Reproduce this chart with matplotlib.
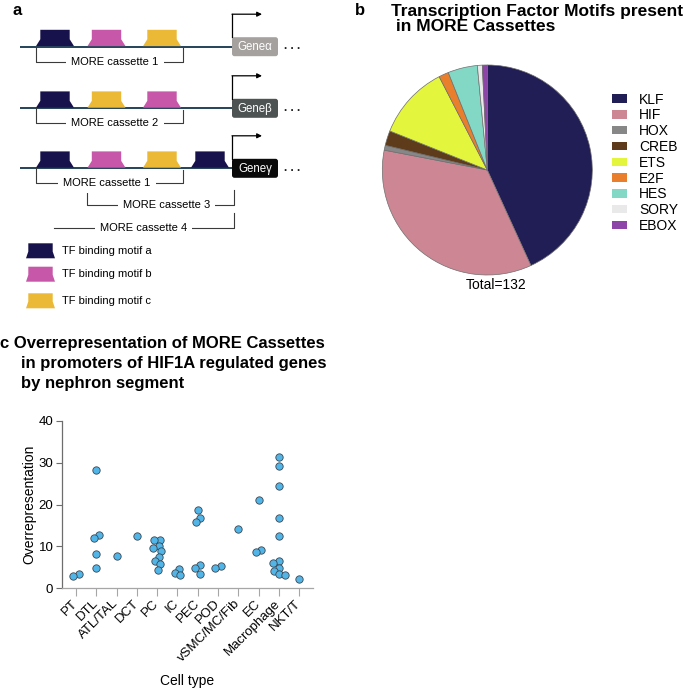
import matplotlib
matplotlib.use('Agg')
import matplotlib.pyplot as plt
import numpy as np
from matplotlib.patches import Polygon, FancyBboxPatch, Patch

plt.rcParams['font.family'] = ['Liberation Sans', 'DejaVu Sans']

# ---------------- Panel b data ----------------
motif_names = ['KLF', 'HIF', 'HOX', 'CREB', 'ETS', 'E2F', 'HES', 'SORY', 'EBOX']
motif_counts = [57, 46, 1, 3, 15, 2, 6, 1, 1]
motif_colors = ['#211d55', '#cd8794', '#878787', '#5e3b1b', '#e3f53c',
                '#e97f2c', '#82d8c4', '#e9e9e9', '#8d45a8']
pie_title = 'Transcription Factor Motifs present\n in MORE Cassettes'
total_label = 'Total=132'

# ---------------- Panel c data ----------------
cell_types = ['PT', 'DTL', 'ATL/TAL', 'DCT', 'PC', 'IC', 'PEC', 'POD',
              'vSMC/MC/Fib', 'EC', 'Macrophage', 'NKT/T']
pt = [3.4, 2.9]
dtl = [28.3, 12.7, 12.0, 8.1, 4.9]
atl_tal = [7.6]
dct = [12.5]
pc = [11.5, 11.5, 10.0, 9.6, 8.8, 7.4, 6.4, 5.7, 4.4]
ic = [4.6, 3.6, 3.2]
pec = [18.7, 16.8, 15.8, 5.6, 4.8, 3.5]
pod = [5.3, 4.8]
vsmc = [14.2]
ec = [21.0, 9.2, 8.6]
macrophage = [31.3, 29.1, 24.3, 16.7, 12.6, 6.4, 6.0, 4.9, 4.1, 3.4, 3.1]
nkt = [2.3]
overrep = [pt, dtl, atl_tal, dct, pc, ic, pec, pod, vsmc, ec, macrophage, nkt]
y_ticks = [0, 10, 20, 30, 40]

# ---------------- Panel a schematic content ----------------
tf_colors = ['#17124b', '#c757a9', '#ecb936']
tf_legend = ['TF binding motif a', 'TF binding motif b', 'TF binding motif c']
gene_labels = ['Geneα', 'Geneβ', 'Geneγ']
gene_colors = ['#a4a19e', '#4c5352', '#0a0a0a']
row_motifs = [[0, 1, 2], [0, 2, 1], [0, 1, 2, 0]]
cassette_labels = ['MORE cassette 1', 'MORE cassette 2', 'MORE cassette 1',
                   'MORE cassette 3', 'MORE cassette 4']

W, H = 685, 689
fig = plt.figure(figsize=(W / 100, H / 100), dpi=100)

# overlay axes in pixel coordinates (for schematic and free text)
ax0 = fig.add_axes([0, 0, 1, 1])
ax0.set_xlim(0, W)
ax0.set_ylim(H, 0)
ax0.axis('off')

# ---- panel a ----
ax0.text(13, 3, 'a', fontsize=12, fontweight='bold', va='top', ha='left')
row_y = [46.7, 108.3, 168.3]
slot_x = [36, 87.5, 143, 191]
line_col = '#24435a'
br_col = '#3a3a3a'


def motif(ax, x0, ybot, color, w=38, h=16.3, inset=4.3, slant=0.42):
    pts = [(x0, ybot), (x0 + inset, ybot - h * slant), (x0 + inset, ybot - h),
           (x0 + w - inset, ybot - h), (x0 + w - inset, ybot - h * slant),
           (x0 + w, ybot)]
    ax.add_patch(Polygon(pts, closed=True, facecolor=color, edgecolor='none', zorder=3))


for i, y in enumerate(row_y):
    ax0.plot([20, 233], [y, y], color=line_col, lw=1.4, solid_capstyle='butt', zorder=2)
    for j, m in enumerate(row_motifs[i]):
        motif(ax0, slot_x[j], y - 0.6, tf_colors[m])
    # gene box
    ax0.add_patch(FancyBboxPatch((232, y - 9.5), 46, 19,
                                 boxstyle='round,pad=0,rounding_size=2.5',
                                 facecolor=gene_colors[i], edgecolor='none', zorder=3))
    ax0.text(255, y + 0.3, gene_labels[i], color='white', fontsize=8.3,
             ha='center', va='center', zorder=4)
    ax0.text(284, y + 2.5, '. . .', color='#222222', fontsize=8.5, ha='left',
             va='baseline', fontweight='bold')
    # transcription start arrow
    yt = y - 32.5
    ax0.plot([232.4, 232.4], [y - 9.5, yt], color='black', lw=0.9, zorder=3)
    ax0.annotate('', xy=(262, yt), xytext=(232, yt),
                 arrowprops=dict(arrowstyle='-|>', lw=0.9, color='black',
                                 mutation_scale=7, shrinkA=0, shrinkB=0))

# brackets: (x_left, x_right, y_left_top or None, y_bottom, y_right_top, text_x)
brackets = [(35.7, 182.7, 46.7, 61.7, 48.3, 115),
            (35.7, 182.7, 108.3, 123.3, 110.0, 115),
            (35.7, 182.7, 168.3, 183.3, 170.0, 107),
            (86.7, 234.0, 191.7, 205.0, 190.0, 166.7),
            (54.3, 234.0, None, 228.3, 213.3, 143.5)]
for (xl, xr, ylt, yb, yrt, tx), lab in zip(brackets, cassette_labels):
    xs, ys = [], []
    if ylt is not None:
        xs += [xl]
        ys += [ylt]
    xs += [xl, xr, xr]
    ys += [yb, yb, yrt]
    ax0.plot(xs, ys, color=br_col, lw=0.8, zorder=2)
    ax0.text(tx, yb, lab, fontsize=8, ha='center', va='center', zorder=4,
             bbox=dict(facecolor='white', edgecolor='none', pad=3.5))

# motif legend
leg_y = [250.8, 274.2, 300.8]
for k, yc in enumerate(leg_y):
    motif(ax0, 26, yc + 7.5, tf_colors[k], w=29, h=15, inset=2.3, slant=0.45)
    ax0.text(61.7, yc, tf_legend[k], fontsize=8, ha='left', va='center')

# ---- panel b ----
ax0.text(355, 3, 'b', fontsize=12, fontweight='bold', va='top', ha='left')
ax0.text(391, 4, pie_title, fontsize=12.5, fontweight='bold', va='top', ha='left',
         linespacing=1.0)
cx, cy, r = 487.3, 170, 105
axb = fig.add_axes([(cx - r) / W, 1 - (cy + r) / H, 2 * r / W, 2 * r / H])
wedges, _ = axb.pie(motif_counts, colors=motif_colors, startangle=90,
                    counterclock=False,
                    wedgeprops=dict(edgecolor='#6e6e6e', linewidth=0.5))
axb.set_xlim(-1, 1)
axb.set_ylim(-1, 1)
axb.set_aspect('equal')
ax0.text(496, 285, total_label, fontsize=10, ha='center', va='center')
handles = [Patch(facecolor=c, edgecolor='none') for c in motif_colors]
fig.legend(handles, motif_names, loc='upper left',
           bbox_to_anchor=(612 / W, 1 - 92.5 / H), frameon=False, fontsize=10,
           handlelength=1.1, handleheight=0.55, handletextpad=0.85,
           labelspacing=0.13, borderpad=0, borderaxespad=0)

# ---- panel c ----
ax0.text(0, 348, 'c Overrepresentation of MORE Cassettes', fontsize=12,
         fontweight='bold', ha='left', va='baseline')
ax0.text(20.7, 368, 'in promoters of HIF1A regulated genes', fontsize=12,
         fontweight='bold', ha='left', va='baseline')
ax0.text(20.7, 388, 'by nephron segment', fontsize=12,
         fontweight='bold', ha='left', va='baseline')

axc = fig.add_axes([61.7 / W, 1 - 588.3 / H, 251.7 / W, 167.6 / H])
axc.set_xlim(-0.7, len(cell_types) - 0.3)
axc.set_ylim(0, 40)

p0 = axc.transData.transform((0, 0))
p1 = axc.transData.transform((1, 1))
sx, sy = p1[0] - p0[0], p1[1] - p0[1]
min_d = 5.6

xs_all, ys_all = [], []
for gi, vals in enumerate(overrep):
    v = sorted(vals, reverse=True)
    # split into clusters of vertically overlapping points
    clusters = [[v[0]]]
    for a in v[1:]:
        if (clusters[-1][-1] - a) * sy < min_d:
            clusters[-1].append(a)
        else:
            clusters.append([a])
    for cl in clusters:
        placed = []
        for a in cl:
            ypx = a * sy
            for step in range(0, 40):
                cands = [0] if step == 0 else [-step * 0.5, step * 0.5]
                ok = None
                for c in cands:
                    if all(np.hypot(c - ox, ypx - oy) >= min_d for ox, oy in placed):
                        ok = c
                        break
                if ok is not None:
                    placed.append((ok, ypx))
                    break
        offs = [p[0] for p in placed]
        shift = (max(offs) + min(offs)) / 2
        for (ox, oy), a in zip(placed, cl):
            xs_all.append(gi + (ox - shift) / sx)
            ys_all.append(a)

axc.scatter(xs_all, ys_all, s=28, c='#52b5e8', edgecolors='#3b4650',
            linewidths=0.6, zorder=3, clip_on=False)
for s in ['top', 'right']:
    axc.spines[s].set_visible(False)
axc.spines['left'].set_color('#6d6d6d')
axc.spines['bottom'].set_color('#a6a6a6')
axc.spines['left'].set_linewidth(0.9)
axc.spines['bottom'].set_linewidth(0.9)
axc.set_yticks(y_ticks)
axc.set_xticks(range(len(cell_types)))
axc.set_xticklabels(cell_types, rotation=45, ha='right', va='center',
                    rotation_mode='anchor')
axc.tick_params(axis='y', length=4, color='#6d6d6d', labelsize=9.5, pad=2)
axc.tick_params(axis='x', length=5.5, color='#a6a6a6', labelsize=9.5, pad=4)
axc.set_ylabel('Overrepresentation', fontsize=10, labelpad=1.5)
axc.set_xlabel('Cell type', fontsize=10, labelpad=7.5)

fig.savefig('out.png', dpi=100)
